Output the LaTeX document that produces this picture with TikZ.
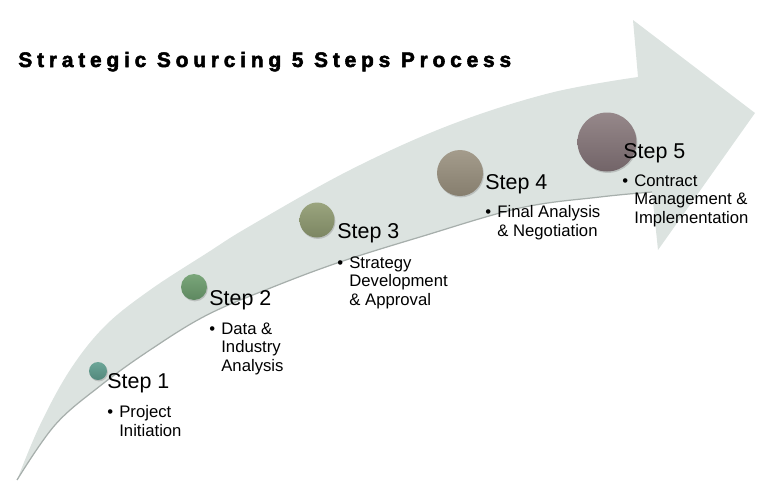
\documentclass[tikz,border=0pt]{standalone}
\usepackage{fontspec}
\setmainfont{Liberation Sans}
\newfontfamily\titlefont[LetterSpace=23, BoldFeatures={FakeBold=2.5}]{Liberation Sans}
\usetikzlibrary{shadows}

\definecolor{arrowfill}{HTML}{DCE3E0}
\definecolor{arrowedge}{HTML}{A7AFAC}

\tikzset{
    dot/.style={circle, inner sep=0pt, draw=none,
        drop shadow={opacity=0.35, shadow xshift=0.5pt, shadow yshift=-0.8pt}},
    steplabel/.style={anchor=base west, inner sep=0pt, font=\fontsize{12.2}{14}\selectfont},
    bulletlist/.style={anchor=base west, inner sep=0pt, align=left, font=\fontsize{9.5}{10.3}\selectfont},
}

\begin{document}
\begin{tikzpicture}[x=0.2mm, y=-0.2mm]
    \useasboundingbox (0,0) rectangle (776,500);

    % Curved arrow
    \fill[arrowfill] plot[smooth, tension=0.6] coordinates {(17,480) (40,425) (70,370) (105,326) (150,290) (207,253) (250,226) (350,170) (450,125) (550,93) (638,77)}
        -- (633,20) -- (755,113) -- (658,250) -- (652,192)
        -- plot[smooth, tension=0.6] coordinates {(652,192) (600,197) (520,208) (420,237) (340,262) (273,287) (207,315) (150,350) (100,386) (55,425) (17,480)} -- cycle;
    \draw[arrowedge, line width=0.7pt] plot[smooth, tension=0.6] coordinates {(652,192) (600,197) (520,208) (420,237) (340,262) (273,287) (207,315) (150,350) (100,386) (55,425) (17,480)};

    % Title
    \node[anchor=base west, inner sep=0pt, font=\titlefont\bfseries\fontsize{11.9}{14}\selectfont] (title) at (18,67) {Strategic Sourcing 5 Steps Process};

    % Circles
    \node[dot, minimum size=3.6mm, top color={rgb,255:red,108;green,166;blue,152}, bottom color={rgb,255:red,82;green,136;blue,124}] (s1) at (98,371) {};
    \node[dot, minimum size=5.2mm, top color={rgb,255:red,122;green,166;blue,122}, bottom color={rgb,255:red,94;green,136;blue,96}] (s2) at (194,287) {};
    \node[dot, minimum size=7mm, top color={rgb,255:red,154;green,164;blue,126}, bottom color={rgb,255:red,124;green,134;blue,98}] (s3) at (317,220) {};
    \node[dot, minimum size=9.2mm, top color={rgb,255:red,164;green,156;blue,140}, bottom color={rgb,255:red,134;green,126;blue,110}] (s4) at (460,173) {};
    \node[dot, minimum size=11.8mm, top color={rgb,255:red,150;green,136;blue,138}, bottom color={rgb,255:red,114;green,100;blue,104}] (s5) at (607,142) {};

    % Step labels
    \node[steplabel] (l1) at (107,388) {Step 1};
    \node[steplabel] (l2) at (209,305) {Step 2};
    \node[steplabel] (l3) at (337,238) {Step 3};
    \node[steplabel] (l4) at (485,189) {Step 4};
    \node[steplabel] (l5) at (623,158) {Step 5};

    % Bullet texts (placed at the baseline of their last line)
    \node[bulletlist] (b1) at (119,436) {\llap{\textbullet\hspace{3.5pt}}Project\\Initiation};
    \node[bulletlist] (b2) at (221,371) {\llap{\textbullet\hspace{3.5pt}}Data \&\\Industry\\Analysis};
    \node[bulletlist] (b3) at (349,305) {\llap{\textbullet\hspace{3.5pt}}Strategy\\Development\\\& Approval};
    \node[bulletlist] (b4) at (497,236) {\llap{\textbullet\hspace{3.5pt}}Final Analysis\\\& Negotiation};
    \node[bulletlist] (b5) at (634,223) {\llap{\textbullet\hspace{3.5pt}}Contract\\Management \&\\Implementation};
\end{tikzpicture}
\end{document}
